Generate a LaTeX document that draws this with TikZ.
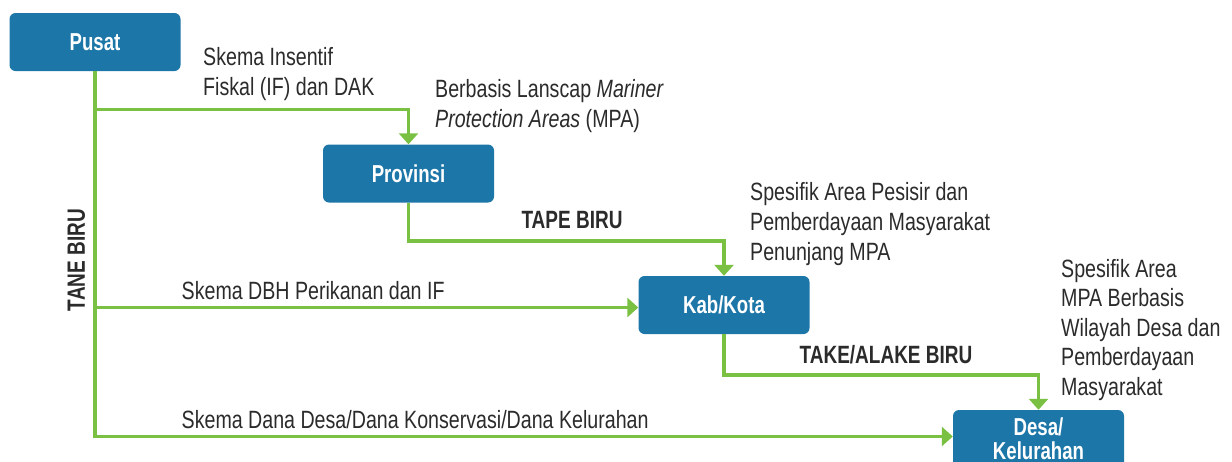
\documentclass[tikz,border=0pt]{standalone}
\usepackage{fontspec}
\usetikzlibrary{arrows.meta,calc}
\newfontfamily\regf{Liberation Sans}[FakeStretch=0.785]
\newfontfamily\boldf{Liberation Sans Bold}[FakeStretch=0.76]
\definecolor{boxblue}{HTML}{1C76A8}
\definecolor{lgreen}{HTML}{7AC143}
\definecolor{txtgray}{HTML}{2B2B2B}
\begin{document}
\begin{tikzpicture}[x=1pt,y=-1pt,
  box/.style={fill=boxblue, rounded corners=6pt, minimum width=171pt, minimum height=58pt,
    inner sep=0pt, text=white, align=center, font=\boldf\fontsize{24.5}{24}\selectfont},
  conn/.style={draw=lgreen, line width=3.5pt},
  arr/.style={conn, -{Triangle[width=19pt,length=11pt]}},
  lbl/.style={text=txtgray, inner sep=0pt, align=left, font=\regf\fontsize{25}{30}\selectfont},
  lblb/.style={text=txtgray, inner sep=0pt, font=\boldf\fontsize{25}{30}\selectfont}]
\useasboundingbox (0,0) rectangle (1232,461);
\clip (0,0) rectangle (1232,461);

% boxes
\node[box] (Pusat) at (95,42) {Pusat};
\node[box] (Provinsi) at (408.5,173.5) {Provinsi};
\node[box] (Kab) at (724,305) {Kab/Kota};
\node[box] (Desa) at (1038.5,439) {Desa/\\Kelurahan};

% junction coordinates
\coordinate (j1) at (95,109.5);
\coordinate (j2) at (95,307.5);
\coordinate (j3) at (95,436.5);
\coordinate (h1) at (0,241);
\coordinate (h2) at (0,375);

% connectors
\draw[arr] (Pusat.south) |- (Desa.west |- j3);
\draw[arr] (j1) -| (Provinsi.north);
\draw[arr] (j2) -- (Kab.west |- j2);
\draw[arr] (Provinsi.south) -- (Provinsi.south |- h1) -| (Kab.north);
\draw[arr] (Kab.south) -- (Kab.south |- h2) -| (Desa.north);

% labels
\node[lbl, anchor=north west] (l1) at (203,44.7) {\strut Skema Insentif\\Fiskal (IF) dan DAK};
\node[lbl, anchor=north west] (l2) at (435,76) {\strut Berbasis Lanscap \textit{Mariner}\\\textit{Protection Areas} (MPA)};
\node[lbl, anchor=north west] (l3) at (750,179) {\strut Spesifik Area Pesisir dan\\Pemberdayaan Masyarakat\\Penunjang MPA};
\node[lbl, anchor=north west, font=\regf\fontsize{25}{29.5}\selectfont] (l4) at (1061,256.3) {\strut Spesifik Area\\MPA Berbasis\\Wilayah Desa dan\\Pemberdayaan\\Masyarakat};
\node[lbl, anchor=base west] (l5) at (181.5,299.5) {Skema DBH Perikanan dan IF};
\node[lbl, anchor=base west] (l6) at (181.5,428) {Skema Dana Desa/Dana Konservasi/Dana Kelurahan};
\node[lblb, anchor=base] (l7) at (572,228) {TAPE BIRU};
\node[lblb, anchor=base] (l8) at (886,363) {TAKE/ALAKE BIRU};
\node[lblb, rotate=90] (l9) at (76.5,260) {TANE BIRU};
\end{tikzpicture}
\end{document}
